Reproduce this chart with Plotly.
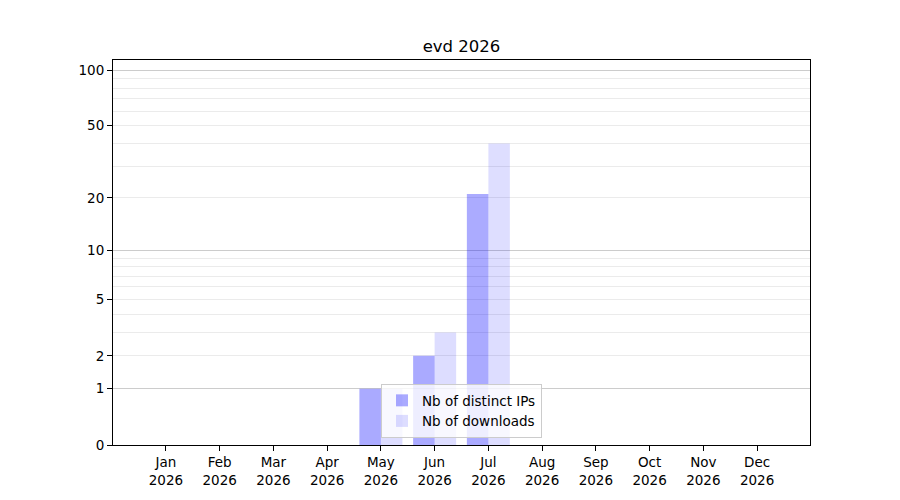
import numpy as np
import plotly.graph_objects as go

# monthly stats
months = ["Jan", "Feb", "Mar", "Apr", "May", "Jun",
          "Jul", "Aug", "Sep", "Oct", "Nov", "Dec"]
year = "2026"
distinct_ips = [0, 0, 0, 0, 1, 2, 21, 0, 0, 0, 0, 0]
downloads = [0, 0, 0, 0, 1, 3, 40, 0, 0, 0, 0, 0]

y_labels = [0, 1, 2, 5, 10, 20, 50, 100]
y_major_grid = [1, 10, 100]
y_minor_grid = [2, 3, 4, 5, 6, 7, 8, 9, 20, 30, 40, 50, 60, 70, 80, 90]


def scale(v):
    # y axis of the original is log10(1 + n)
    return np.log10(1 + np.asarray(v, dtype=float))


x = list(range(len(months)))
font = dict(family="DejaVu Sans", size=13.5, color="black")

fig = go.Figure()
fig.add_trace(go.Bar(x=x, y=scale(distinct_ips), name="Nb of distinct IPs",
                     marker=dict(color="blue", line=dict(width=0)), opacity=0.33))
fig.add_trace(go.Bar(x=x, y=scale(downloads), name="Nb of downloads",
                     marker=dict(color="blue", line=dict(width=0)), opacity=0.13))
# invisible trace to carry the major gridlines on an overlay axis
fig.add_trace(go.Scatter(x=[0], y=[0], yaxis="y2", mode="markers",
                         marker=dict(opacity=0), showlegend=False, hoverinfo="skip"))

# page body has an 8px margin, so the figure is shifted by 8px
y_top = 2.059
fig.update_layout(
    width=900, height=500,
    margin=dict(l=105, r=98, t=52, b=63),
    paper_bgcolor="white", plot_bgcolor="rgba(0,0,0,0)",
    font=font,
    title=dict(text="evd 2026", x=(105 + 802) / 2 / 900, xanchor="center",
               y=1 - 38 / 500, yanchor="middle",
               font=dict(family="DejaVu Sans", size=16.5, color="black")),
    barmode="group", bargap=0.2, bargroupgap=0,
    showlegend=True,
    legend=dict(x=0.5, xanchor="center", y=0.018, yanchor="bottom",
                bgcolor="rgba(255,255,255,0.8)", bordercolor="#cccccc", borderwidth=1,
                font=font, tracegroupgap=0, itemwidth=30),
    xaxis=dict(range=[-0.985, 11.985], tickmode="array", tickvals=x,
               ticktext=[m + "<br>" + year for m in months],
               showgrid=False, zeroline=False,
               showline=True, linecolor="black", linewidth=1, mirror=True,
               ticks="outside", ticklen=5, tickcolor="black"),
    yaxis=dict(range=[0, y_top], tickmode="array", tickvals=scale(y_labels),
               ticktext=[str(v) for v in y_labels],
               showgrid=False, zeroline=False,
               showline=True, linecolor="black", linewidth=1, mirror=True,
               ticks="outside", ticklen=5, tickcolor="black",
               minor=dict(tickmode="array", tickvals=scale(y_minor_grid),
                          showgrid=True, gridcolor="#ebebeb", gridwidth=1, ticks="")),
    yaxis2=dict(range=[0, y_top], overlaying="y", tickmode="array",
                tickvals=scale(y_major_grid), showticklabels=False,
                showgrid=True, gridcolor="#cccccc", gridwidth=1,
                zeroline=False, ticks="", showline=False),
)

fig.write_html("out.html")
